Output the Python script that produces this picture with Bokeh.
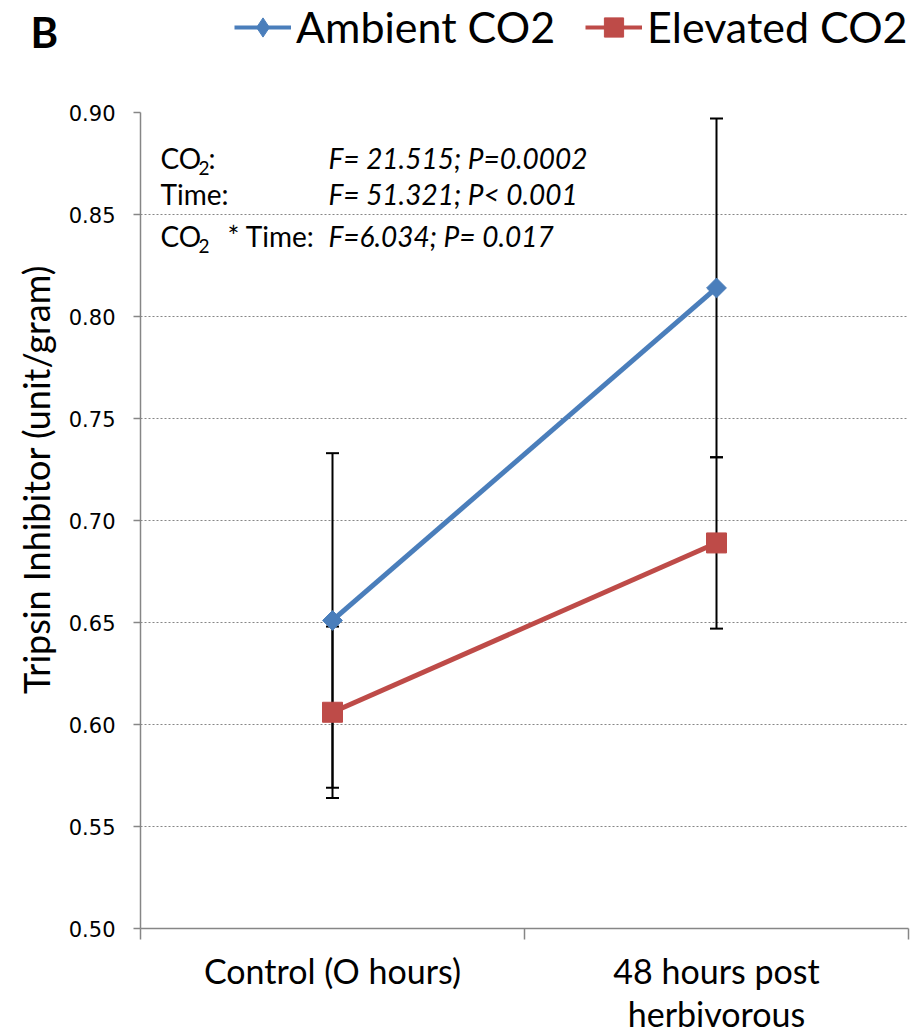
from math import pi

from bokeh.embed import file_html
from bokeh.resources import INLINE
from bokeh.layouts import column, row
from bokeh.plotting import figure
from bokeh.models import (ColumnDataSource, Range1d, FixedTicker, Whisker, TeeHead,
                          Legend, LegendItem, Label, NumeralTickFormatter)

# ---- data ----
categories = ["Control (O hours)", "48 hours post\nherbivorous"]
ambient_mean = [0.651, 0.814]
ambient_err = [0.082, 0.083]
elevated_mean = [0.606, 0.689]
elevated_err = [0.042, 0.042]
y_ticks = [0.50, 0.55, 0.60, 0.65, 0.70, 0.75, 0.80, 0.85, 0.90]
series_names = ["Ambient CO2", "Elevated CO2"]
y_title = "Tripsin Inhibitor (unit/gram)"
panel_letter = "B"

BLUE = "#4A7EBB"
RED = "#BE4B48"
AXIS_GRAY = "#868686"
FONT = "Lato"

W, H = 911, 1036
HEADER_H = 92
STRIP_W = 60
MAIN_H = H - HEADER_H
BORDER_TOP, BORDER_BOTTOM = 20, 107

x_pos = [i + 0.5 for i in range(len(categories))]
x_bounds = list(range(len(categories) + 1))


def bare_figure(width, height):
    f = figure(width=width, height=height, output_backend="svg", toolbar_location=None,
               x_range=Range1d(0, width), y_range=Range1d(0, height),
               x_axis_type=None, y_axis_type=None, title=None,
               min_border=0, outline_line_color=None)
    f.grid.visible = False
    return f


def screen_label(fig, x, y, text, **kw):
    fig.add_layout(Label(x=x, y=y, x_units="screen", y_units="screen", text=text,
                         text_color="black", **kw))


# ---- main plot ----
p = figure(width=W - STRIP_W, height=MAIN_H, output_backend="svg", toolbar_location=None,
           x_range=Range1d(0, len(categories)), y_range=Range1d(y_ticks[0], y_ticks[-1]),
           min_border_left=80, min_border_right=3,
           min_border_top=BORDER_TOP, min_border_bottom=BORDER_BOTTOM)
p.outline_line_color = None

xa = p.xaxis[0]
xa.ticker = FixedTicker(ticks=x_pos, minor_ticks=x_bounds)
xa.major_label_overrides = {x: c for x, c in zip(x_pos, categories)}
xa.major_tick_line_color = None
xa.major_tick_out = 0
xa.major_tick_in = 0
xa.minor_tick_line_color = AXIS_GRAY
xa.minor_tick_line_width = 1.5
xa.minor_tick_out = 11
xa.minor_tick_in = 0
xa.axis_line_color = AXIS_GRAY
xa.axis_line_width = 1.5
xa.major_label_text_font = FONT
xa.major_label_text_font_size = "34px"
xa.major_label_text_line_height = 1.05
xa.major_label_text_color = "black"
xa.major_label_standoff = 10

ya = p.yaxis[0]
ya.ticker = FixedTicker(ticks=y_ticks)
ya.formatter = NumeralTickFormatter(format="0.00")
ya.minor_tick_line_color = None
ya.major_tick_line_color = AXIS_GRAY
ya.major_tick_line_width = 1.5
ya.major_tick_out = 7
ya.major_tick_in = 0
ya.axis_line_color = AXIS_GRAY
ya.axis_line_width = 1.5
ya.major_label_text_font = "DejaVu Sans"
ya.major_label_text_font_size = "21px"
ya.major_label_text_color = "black"
ya.major_label_standoff = 18

p.xgrid.grid_line_color = None
p.ygrid.grid_line_color = AXIS_GRAY
p.ygrid.grid_line_dash = "2 2"
p.ygrid.grid_line_width = 1.2

# error bars
for mean, err in ((ambient_mean, ambient_err), (elevated_mean, elevated_err)):
    src = ColumnDataSource(dict(x=x_pos,
                                upper=[m + e for m, e in zip(mean, err)],
                                lower=[m - e for m, e in zip(mean, err)]))
    p.add_layout(Whisker(base="x", upper="upper", lower="lower", source=src,
                         line_color="black", line_width=2,
                         upper_head=TeeHead(size=13, line_color="black", line_width=2),
                         lower_head=TeeHead(size=13, line_color="black", line_width=2)))

amb_src = ColumnDataSource(dict(x=x_pos, y=ambient_mean))
ele_src = ColumnDataSource(dict(x=x_pos, y=elevated_mean))
p.line("x", "y", source=amb_src, line_color=BLUE, line_width=5)
p.scatter("x", "y", source=amb_src, marker="square", angle=pi / 4, size=14,
          fill_color=BLUE, line_color=BLUE)
p.line("x", "y", source=ele_src, line_color=RED, line_width=5)
p.scatter("x", "y", source=ele_src, marker="square", size=20,
          fill_color=RED, line_color=RED)


# statistics block (frame-relative screen offsets)
def stat_label(x, y, text, size="28px", style="normal"):
    screen_label(p, x, y, text, text_baseline="middle", text_font=FONT,
                 text_font_size=size, text_font_style=style)


rows = [771, 735, 693]
stat_label(20, rows[0], "CO")
stat_label(58, rows[0] - 10, "2", size="19px")
stat_label(68, rows[0], ":")
stat_label(188, rows[0], "F= 21.515; P=0.0002", style="italic")

stat_label(20, rows[1], "Time:")
stat_label(188, rows[1], "F= 51.321; P< 0.001", style="italic")

stat_label(20, rows[2], "CO")
stat_label(58, rows[2] - 10, "2", size="19px")
stat_label(87, rows[2], "* Time:")
stat_label(188, rows[2], "F=6.034; P= 0.017", style="italic")

# ---- header: panel letter and legend ----
header = bare_figure(W, HEADER_H)
screen_label(header, 30, HEADER_H - 31, panel_letter, text_font=FONT,
             text_font_size="42px", text_font_style="bold", text_baseline="middle")

# legend samples (same series, hidden; only their legend glyphs are drawn)
h_amb_l = header.line("x", "y", source=amb_src, line_color=BLUE, line_width=4, visible=False)
h_amb_m = header.scatter("x", "y", source=amb_src, marker="diamond", fill_color=BLUE,
                         line_color=BLUE, visible=False)
h_ele_l = header.line("x", "y", source=ele_src, line_color=RED, line_width=4, visible=False)
h_ele_m = header.scatter("x", "y", source=ele_src, marker="square", fill_color=RED,
                         line_color=RED, visible=False)
legend = Legend(items=[LegendItem(label=series_names[0], renderers=[h_amb_l, h_amb_m]),
                       LegendItem(label=series_names[1], renderers=[h_ele_l, h_ele_m])],
                orientation="horizontal", location=(234, HEADER_H - 52),
                glyph_width=57, glyph_height=48, label_standoff=5, spacing=30,
                padding=0, margin=0, border_line_color=None, background_fill_alpha=0,
                label_text_font=FONT, label_text_font_size="43px", label_text_color="black",
                inactive_fill_alpha=0)
header.add_layout(legend)

# ---- left strip: y axis title (its frame lines up with the main frame) ----
strip = bare_figure(STRIP_W, MAIN_H)
frame_bottom = HEADER_H + MAIN_H - BORDER_BOTTOM
screen_label(strip, 35, frame_bottom - 480, y_title, angle=pi / 2,
             text_align="center", text_baseline="middle",
             text_font=FONT, text_font_size="36px")

layout = column(header, row(strip, p, spacing=0), spacing=0)
open("out.html", "w").write(file_html(layout, INLINE))
